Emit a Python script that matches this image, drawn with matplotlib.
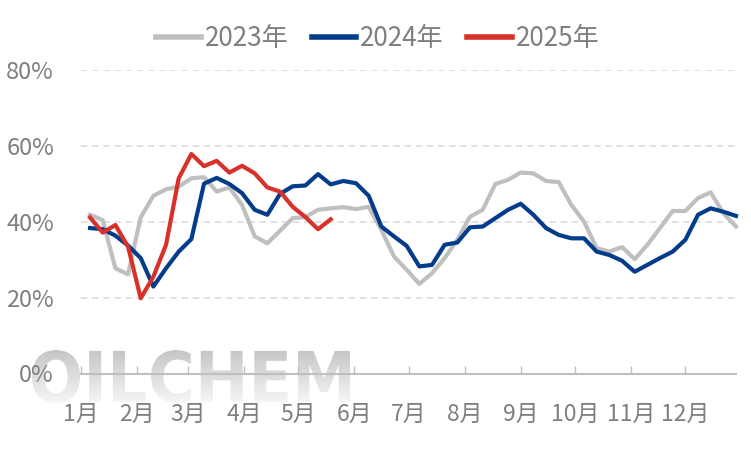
import numpy as np
import matplotlib
matplotlib.use('Agg')
import matplotlib.pyplot as plt
from matplotlib.textpath import TextPath
from matplotlib.patches import PathPatch
from matplotlib.font_manager import FontProperties
from matplotlib.transforms import Affine2D
from matplotlib.colors import LinearSegmentedColormap

plt.rcParams['font.family'] = ['Noto Sans CJK SC', 'DejaVu Sans']

# weekly values, %
y2023 = [41.8, 40.4, 27.7, 26.1, 41.1, 46.8, 48.5, 49.2, 51.4, 51.7,
         47.9, 49.0, 44.4, 36.1, 34.3, 37.6, 40.9, 41.2, 43.1, 43.5,
         43.8, 43.3, 43.9, 37.8, 30.8, 27.3, 23.6, 26.4, 30.4, 35.2,
         41.3, 43.1, 49.9, 51.0, 52.9, 52.7, 50.7, 50.4, 44.4, 40.0,
         33.0, 32.1, 33.3, 30.1, 33.9, 38.3, 42.8, 42.8, 46.2, 47.7,
         42.2, 38.7]
y2024 = [38.3, 38.0, 36.3, 33.7, 30.4, 22.9, 27.7, 32.1, 35.4, 50.0,
         51.5, 49.9, 47.5, 43.1, 41.8, 47.3, 49.3, 49.5, 52.5, 49.8,
         50.7, 50.1, 46.8, 38.7, 36.1, 33.6, 28.2, 28.6, 33.9, 34.5,
         38.5, 38.7, 40.9, 43.1, 44.7, 41.8, 38.3, 36.5, 35.6, 35.6,
         32.1, 31.2, 29.7, 26.8, 28.6, 30.4, 32.1, 35.2, 41.8, 43.5,
         42.6, 41.5]
y2025 = [41.1, 37.1, 39.1, 33.4, 19.8, 25.5, 33.9, 51.4, 57.8, 54.6,
         56.0, 52.9, 54.7, 52.7, 49.0, 47.9, 43.9, 41.2, 38.0, 40.6]

month_labels = ['1月', '2月', '3月', '4月', '5月', '6月',
                '7月', '8月', '9月', '10月', '11月', '12月']
month_days = [0, 31, 59, 90, 120, 151, 181, 212, 243, 273, 304, 334]

W, H = 751, 450
fig = plt.figure(figsize=(W / 100, H / 100), dpi=100)

# watermark
wm = fig.add_axes([32 / W, (H - 403) / H, 318 / W, 53 / H], zorder=0)
wm.axis('off')
wm.set_xlim(0, 1)
wm.set_ylim(0, 1)
tp = TextPath((0, 0), 'OILCHEM', size=1,
              prop=FontProperties(family='DejaVu Sans', weight='bold'))
bb = tp.get_extents()
path = Affine2D().translate(-bb.x0, -bb.y0).scale(1 / bb.width, 1 / bb.height).transform_path(tp)
clip = PathPatch(path, facecolor='none', edgecolor='none', transform=wm.transData)
wm.add_patch(clip)
cmap = LinearSegmentedColormap.from_list('wm', ['#f6f6f6', '#c6c6c6'])
im = wm.imshow(np.linspace(0, 1, 64).reshape(-1, 1), extent=[0, 1, 0, 1],
               origin='lower', aspect='auto', cmap=cmap)
im.set_clip_path(clip)

ax = fig.add_axes([81 / W, (H - 373.5) / H, (736 - 81) / W, (373.5 - 69.7) / H], zorder=1)
ax.patch.set_visible(False)

x23 = [5 + 7 * i for i in range(len(y2023))]
x24 = [5 + 7 * i for i in range(len(y2024))]
x25 = [5 + 7 * i for i in range(len(y2025))]

ax.plot(x23, y2023, color='#bfbfbf', lw=3, label='2023年', clip_on=False, zorder=3)
ax.plot(x24, y2024, color='#043c8c', lw=3, label='2024年', clip_on=False, zorder=4)
ax.plot(x25, y2025, color='#d7312a', lw=3, label='2025年', clip_on=False, zorder=5)

ax.set_xlim(0, 362)
ax.set_ylim(0, 80)
ax.set_yticks([0, 20, 40, 60, 80])
ax.set_yticklabels(['0%', '20%', '40%', '60%', '80%'])
ax.set_xticks(month_days)
ax.set_xticklabels(month_labels)

for v in [20, 40, 60, 80]:
    ax.axhline(v, color='#d9d9d9', lw=1.1, linestyle=(0, (4.3, 3)), zorder=1)

for s in ['top', 'right', 'left']:
    ax.spines[s].set_visible(False)
ax.spines['bottom'].set_color('#bfbfbf')
ax.spines['bottom'].set_linewidth(1.5)

ax.tick_params(axis='y', length=0, pad=19.5, labelsize=17, labelcolor='#7f7f7f')
ax.tick_params(axis='x', direction='in', length=6, width=1, color='#bfbfbf',
               pad=21, labelsize=16.5, labelcolor='#7f7f7f')

leg = fig.legend(loc='center', bbox_to_anchor=(0.503, 1 - 38.5 / H), ncol=3,
                 frameon=False, fontsize=18.8, handlelength=1.7, handletextpad=0.15,
                 columnspacing=0.9, labelcolor='#7f7f7f')
for h in leg.legend_handles:
    h.set_linewidth(4)

fig.savefig('out.png', dpi=100)
